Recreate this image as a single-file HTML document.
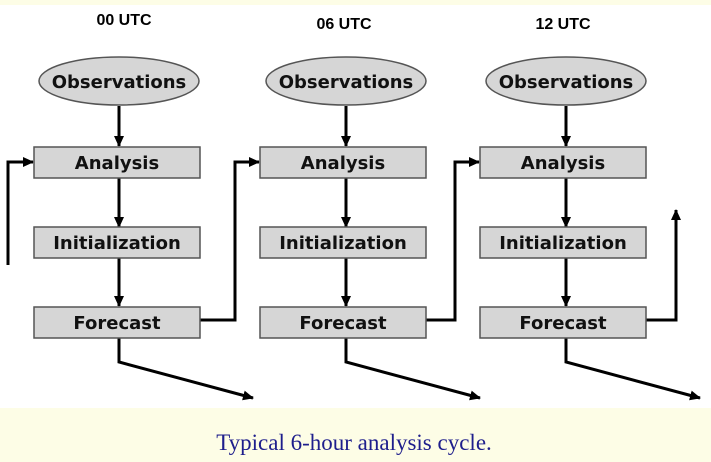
<!DOCTYPE html>
<html><head><style>
html,body{margin:0;padding:0;background:#fdfde6;}
</style></head><body>
<svg width="711" height="462" xmlns="http://www.w3.org/2000/svg" style="display:block">
<defs><marker id="a" markerWidth="11" markerHeight="10" refX="10" refY="5" orient="auto" markerUnits="userSpaceOnUse"><path d="M0,0L11,5L0,10z" fill="#000"/></marker></defs>
<rect x="0" y="0" width="711" height="462" fill="#fdfde6"/>
<rect x="0" y="5" width="711" height="403" fill="#fff"/>
<g font-family="Liberation Sans, sans-serif" font-weight="bold" text-anchor="middle">
<text x="124" y="25" font-size="16">00 UTC</text>
<text x="344" y="29" font-size="16">06 UTC</text>
<text x="563" y="29" font-size="16">12 UTC</text>
</g>
<g stroke="#000" stroke-width="3" fill="none">
<line x1="119" y1="106" x2="119" y2="146" marker-end="url(#a)"/>
<line x1="119" y1="178" x2="119" y2="227" marker-end="url(#a)"/>
<line x1="119" y1="258" x2="119" y2="306" marker-end="url(#a)"/>
<polyline points="8,265 8,162 33,162" marker-end="url(#a)"/>
<polyline points="200,320 235,320 235,162 259,162" marker-end="url(#a)"/>
<polyline points="119,338 119,362 253,398" marker-end="url(#a)"/>
<line x1="346" y1="106" x2="346" y2="146" marker-end="url(#a)"/>
<line x1="346" y1="178" x2="346" y2="227" marker-end="url(#a)"/>
<line x1="346" y1="258" x2="346" y2="306" marker-end="url(#a)"/>
<polyline points="426,320 455,320 455,162 479,162" marker-end="url(#a)"/>
<polyline points="346,338 346,362 480,398" marker-end="url(#a)"/>
<line x1="566" y1="106" x2="566" y2="146" marker-end="url(#a)"/>
<line x1="566" y1="178" x2="566" y2="227" marker-end="url(#a)"/>
<line x1="566" y1="258" x2="566" y2="306" marker-end="url(#a)"/>
<polyline points="646,320 676,320 676,210" marker-end="url(#a)"/>
<polyline points="566,338 566,362 700,398" marker-end="url(#a)"/>
</g>
<g fill="#d6d6d6" stroke="#555" stroke-width="1.5">
<ellipse cx="119" cy="81" rx="80" ry="24"/>
<ellipse cx="346" cy="81" rx="80" ry="24"/>
<ellipse cx="566" cy="81" rx="80" ry="24"/>
<rect x="34" y="147" width="166" height="31"/><rect x="34" y="227" width="166" height="31"/><rect x="34" y="307" width="166" height="31"/>
<rect x="260" y="147" width="166" height="31"/><rect x="260" y="227" width="166" height="31"/><rect x="260" y="307" width="166" height="31"/>
<rect x="480" y="147" width="166" height="31"/><rect x="480" y="227" width="166" height="31"/><rect x="480" y="307" width="166" height="31"/>
</g>
<g font-family="DejaVu Sans, sans-serif" font-weight="bold" font-size="18" text-anchor="middle" fill="#111">
<text x="119" y="88">Observations</text><text x="346" y="88">Observations</text><text x="566" y="88">Observations</text>
<text x="117" y="169">Analysis</text><text x="343" y="169">Analysis</text><text x="563" y="169">Analysis</text>
<text x="117" y="249">Initialization</text><text x="343" y="249">Initialization</text><text x="563" y="249">Initialization</text>
<text x="117" y="329">Forecast</text><text x="343" y="329">Forecast</text><text x="563" y="329">Forecast</text>
</g>
<text x="354" y="450" font-family="Liberation Serif, serif" font-size="23" fill="#1e1e8c" text-anchor="middle">Typical 6-hour analysis cycle.</text>
</svg>
</body></html>
